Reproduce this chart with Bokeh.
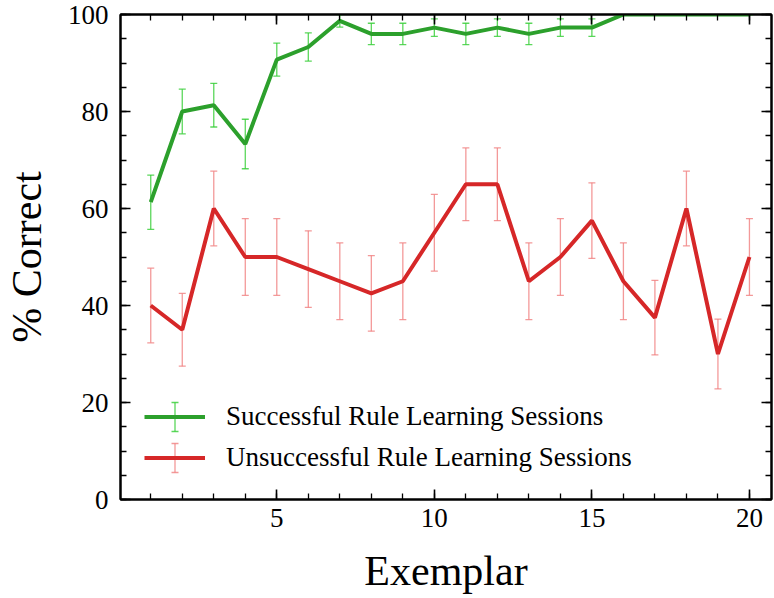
from bokeh.plotting import figure
from bokeh.models import (ColumnDataSource, Range1d, LinearAxis, SingleIntervalTicker,
                          Legend, LegendItem, Whisker, TeeHead)
from bokeh.embed import file_html
from bokeh.resources import INLINE

# ---- data ----
exemplar = list(range(1, 21))
successful = [61.3, 80.0, 81.3, 73.3, 90.7, 93.3, 98.7, 96.0, 96.0, 97.3,
              96.0, 97.3, 96.0, 97.3, 97.3, 100, 100, 100, 100, 100]
successful_err = [5.6, 4.6, 4.5, 5.1, 3.4, 2.9, 1.3, 2.2, 2.2, 1.8,
                  2.2, 1.8, 2.2, 1.8, 1.8, 0, 0, 0, 0, 0]
unsuccessful = [40, 35, 60, 50, 50, 47.5, 45, 42.5, 45, 55,
                65, 65, 45, 50, 57.5, 45, 37.5, 60, 30, 50]
unsuccessful_err = [7.7, 7.5, 7.7, 7.9, 7.9, 7.9, 7.9, 7.8, 7.9, 7.9,
                    7.5, 7.5, 7.9, 7.9, 7.8, 7.9, 7.7, 7.7, 7.2, 7.9]
series_labels = ["Successful Rule Learning Sessions", "Unsuccessful Rule Learning Sessions"]
x_label = "Exemplar"
y_label = "% Correct"

FONT = "Liberation Serif"
GREEN = "#2ca02c"
RED = "#d62728"
GREEN_ERR = "#32cd32"
RED_ERR = "#f08080"


def make_src(y, e):
    return ColumnDataSource(dict(
        x=exemplar, y=y,
        lo=[a - b for a, b in zip(y, e)],
        hi=[a + b for a, b in zip(y, e)],
    ))


src_s = make_src(successful, successful_err)
src_u = make_src(unsuccessful, unsuccessful_err)

p = figure(width=774, height=598, output_backend="svg", toolbar_location=None,
           x_range=Range1d(0.04, 20.7), y_range=Range1d(0, 100),
           min_border_left=120, min_border_right=3, min_border_top=14, min_border_bottom=99)
p.xaxis.visible = False
p.yaxis.visible = False
p.grid.visible = False
p.outline_line_color = "black"
p.outline_line_width = 2
p.background_fill_color = "white"
p.border_fill_color = "white"

xt = SingleIntervalTicker(interval=5, num_minor_ticks=5)
yt = SingleIntervalTicker(interval=20, num_minor_ticks=4)


def style_axis(ax, labels=True):
    ax.axis_line_color = "black"
    ax.axis_line_width = 2
    ax.major_tick_line_color = "black"
    ax.minor_tick_line_color = "black"
    ax.major_tick_line_width = 1.6
    ax.minor_tick_line_width = 1.3
    ax.major_tick_in = 10
    ax.major_tick_out = 0
    ax.minor_tick_in = 6
    ax.minor_tick_out = 0
    ax.major_label_text_font = FONT
    ax.major_label_text_color = "black"
    ax.axis_label_text_font = FONT
    ax.axis_label_text_font_style = "normal"
    ax.axis_label_text_color = "black"
    if not labels:
        ax.major_label_text_font_size = "1px"
        ax.major_label_text_color = None
        ax.major_label_standoff = 0


xb = LinearAxis(ticker=xt, axis_label=x_label)
style_axis(xb)
xb.major_label_text_font_size = "27px"
xb.axis_label_text_font_size = "42px"
xb.major_label_standoff = 9
xb.axis_label_standoff = 18
p.add_layout(xb, "below")

yl = LinearAxis(ticker=yt, axis_label=y_label)
style_axis(yl)
yl.major_label_text_font_size = "27px"
yl.axis_label_text_font_size = "42px"
yl.major_label_standoff = 12
yl.axis_label_standoff = 15
p.add_layout(yl, "left")

xa = LinearAxis(ticker=xt)
style_axis(xa, labels=False)
p.add_layout(xa, "above")
yr = LinearAxis(ticker=yt)
style_axis(yr, labels=False)
p.add_layout(yr, "right")

# error bars (drawn first, lines on top)
for src, col in ((src_s, GREEN_ERR), (src_u, RED_ERR)):
    p.segment(x0="x", y0="lo", x1="x", y1="hi", source=src, line_color=col,
              line_width=1.3, line_alpha=0.8)
    p.scatter(x="x", y="lo", source=src, marker="dash", size=7, line_color=col,
              line_width=1.3, line_alpha=0.8)
    p.scatter(x="x", y="hi", source=src, marker="dash", size=7, line_color=col,
              line_width=1.3, line_alpha=0.8)

r_s = p.line(x="x", y="y", source=src_s, line_color=GREEN, line_width=4)
r_u = p.line(x="x", y="y", source=src_u, line_color=RED, line_width=4)

# legend geometry (screen px relative to frame bottom-left)
LX, LY, GW, ROW, EH = 24, 21, 61, 41, 14.5
leg_lower = [LY + ROW * 1.5 - EH, LY + ROW * 0.5 - EH]
leg_upper = [LY + ROW * 1.5 + EH, LY + ROW * 0.5 + EH]
for i, col in enumerate((GREEN_ERR, RED_ERR)):
    s = ColumnDataSource(dict(base=[LX + GW / 2], lower=[leg_lower[i]], upper=[leg_upper[i]]))
    w = Whisker(source=s, base="base", lower="lower", upper="upper", dimension="height",
                base_units="screen", lower_units="screen", upper_units="screen",
                line_color=col, line_width=1.3, line_alpha=0.8,
                lower_head=TeeHead(size=7, line_color=col, line_width=1.3, line_alpha=0.8),
                upper_head=TeeHead(size=7, line_color=col, line_width=1.3, line_alpha=0.8))
    p.add_layout(w, "center")

legend = Legend(items=[LegendItem(label=series_labels[0], renderers=[r_s]),
                       LegendItem(label=series_labels[1], renderers=[r_u])],
                location=(LX, LY), orientation="vertical",
                glyph_width=GW, glyph_height=ROW, label_height=ROW, spacing=0,
                padding=0, margin=0, label_standoff=21,
                label_text_font=FONT, label_text_font_size="27px", label_text_color="black",
                border_line_color=None, background_fill_alpha=0)
p.add_layout(legend, "center")

open("out.html", "w").write(file_html(p, INLINE))
